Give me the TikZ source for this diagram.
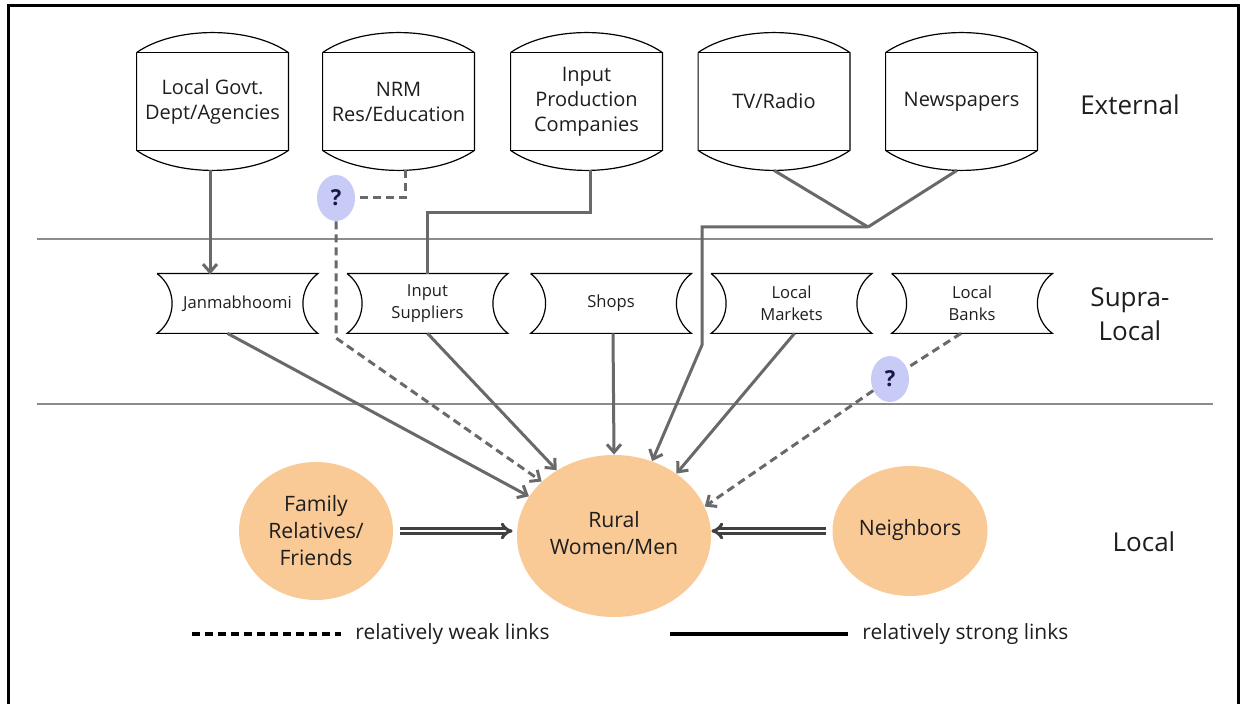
\documentclass[tikz,border=0pt]{standalone}
\usepackage{fontspec}
\setmainfont{Open Sans}
\usetikzlibrary{arrows.meta,calc,shapes.geometric}
\definecolor{conn}{RGB}{105,105,105}
\definecolor{sep}{RGB}{140,140,140}
\definecolor{orng}{RGB}{249,201,150}
\definecolor{lav}{RGB}{200,203,245}
\definecolor{txt}{RGB}{30,30,30}
\definecolor{dbl}{RGB}{64,64,64}
\definecolor{qtxt}{RGB}{25,25,70}
\newcommand\extdraw[1]{%
  \draw[boxline] ($(#1.north west)+(0,20)$) -- ($(#1.south west)+(0,-20)$)
    .. controls +(38,26.7) and +(-38,26.7) .. ($(#1.south east)+(0,-20)$)
    -- ($(#1.north east)+(0,20)$)
    .. controls +(-38,-26.7) and +(38,-26.7) .. ($(#1.north west)+(0,20)$);
  \draw[boxline] ($(#1.south west)+(0,-20)$) -- ($(#1.south east)+(0,-20)$);
  \draw[boxline] ($(#1.north west)+(0,20)$) -- ($(#1.north east)+(0,20)$);}
\newcommand\supdraw[1]{%
  \draw[boxline] (#1.north west) -- (#1.north east)
    .. controls +(-20,15) and +(-20,-15) .. (#1.south east)
    -- (#1.south west)
    .. controls +(20,-15) and +(20,15) .. (#1.north west);}
\begin{document}
\begin{tikzpicture}[x=0.5pt,y=-0.5pt,
  boxline/.style={draw=black, line width=0.6pt},
  extbox/.style={minimum width=75.5pt, minimum height=68.5pt, inner sep=0pt, align=center, text=txt, font=\fontsize{10}{12.5}\selectfont},
  supbox/.style={minimum width=80pt, minimum height=29.5pt, inner sep=0pt, align=center, text=txt, font=\fontsize{8.3}{11}\selectfont},
  circ/.style={ellipse, fill=orng, inner sep=0pt, align=center, text=txt, font=\fontsize{10.6}{13.5}\selectfont},
  qnode/.style={ellipse, fill=lav, minimum width=19pt, minimum height=23pt, inner sep=0pt, text=qtxt, font=\bfseries\fontsize{11}{11}\selectfont},
  lbl/.style={align=center, text=txt, font=\fontsize{13}{17}\selectfont},
  leg/.style={anchor=west, inner sep=0pt, text=txt, font=\fontsize{10.5}{12}\selectfont},
  strong/.style={draw=conn, line width=1.5pt},
  weak/.style={draw=conn, line width=1.5pt, dash pattern=on 4pt off 2.5pt},
  tip/.style={-{Straight Barb[length=4pt,width=7pt]}},
  dblarrow/.style={draw=dbl, double=white, double distance=1.1pt, line width=1.5pt, -{Implies}},
  sepline/.style={draw=sep, line width=1pt}]
\useasboundingbox (0,0) rectangle (1241,704);
% frame
\draw[line width=1.5pt] (8,704) -- (8,6) -- (1238,6) -- (1238,704);
% separators
\draw[sepline] (37,239) -- (1213,239);
\draw[sepline] (37,404) -- (1213,404);
% external
\node[extbox] (ext1) at (212.5,101.5) {Local Govt.\\Dept/Agencies};
\node[extbox] (ext2) at (398.5,101.5) {NRM\\Res/Education};
\node[extbox] (ext3) at (586.5,101.5) {Input\\Production\\Companies};
\node[extbox] (ext4) at (774,101.5) {TV/Radio};
\node[extbox] (ext5) at (961.5,101.5) {Newspapers};
\extdraw{ext1}\extdraw{ext2}\extdraw{ext3}\extdraw{ext4}\extdraw{ext5}
% supra-local
\node[supbox] (jan) at (237.5,303.5) {Janmabhoomi};
\node[supbox] (insup) at (427.5,303.5) {Input\\Suppliers};
\node[supbox] (shops) at (611,303.5) {Shops};
\node[supbox] (mkt) at (791.5,303.5) {Local\\Markets};
\node[supbox] (bank) at (972,303.5) {Local\\Banks};
\supdraw{jan}\supdraw{insup}\supdraw{shops}\supdraw{mkt}\supdraw{bank}
% local
\node[circ, minimum width=97pt, minimum height=81pt] (rural) at (614,536) {\raisebox{3pt}{\begin{tabular}{@{}c@{}}Rural\\Women/Men\end{tabular}}};
\node[circ, minimum width=77pt, minimum height=69pt] (fam) at (316,531) {Family\\Relatives/\\Friends};
\node[circ, minimum width=77.5pt, minimum height=65pt] (nb) at (910,531) {\raisebox{4pt}{Neighbors}};
% question nodes
\node[qnode] (q1) at (336,198) {?};
\node[qnode] (q2) at (890,379) {?};
% labels
\node[lbl] (lext) at (1130,105) {External};
\node[lbl] (lsup) at (1130,314) {Supra-\\Local};
\node[lbl] (lloc) at (1144,542) {Local};
% coordinates
\coordinate (jn) at (868,227);
\coordinate (tvk1) at (702,227);
\coordinate (tvk2) at (702,345);
\coordinate (k1) at (336,338);
% connectors
\draw[strong,tip] ($(ext1.south)+(-2.5,0)$) -- ++(0,104);
\draw[weak] ($(ext2.south)+(6.5,0)$) |- ([xshift=2.5pt]q1.east);
\draw[weak,tip] (q1.south) -- (k1) -- (rural.143);
\draw[strong] ($(ext3.south)+(3.5,0)$) -- ++(0,42) -| (insup.north);
\draw[strong] (ext4.south) -- (jn);
\draw[strong] ($(ext5.south)+(-4.5,0)$) -- (jn);
\draw[strong,tip] (jn) -- (tvk1) -- (tvk2) -- (rural.63);
\draw[strong,tip] ($(jan.south)+(-10,0)$) -- (rural.155);
\draw[strong,tip] (insup.south) -- (rural.131);
\draw[strong,tip] ($(shops.south)+(2,0)$) -- (rural.north);
\draw[strong,tip] ($(mkt.south)+(3,0)$) -- (rural.45);
\draw[weak] ($(bank.south)+(-11,0)$) -- (q2);
\draw[weak,tip] (q2) -- (rural.18);
\draw[dblarrow, shorten <=3.5pt, shorten >=2pt] (fam.east) -- (fam.east -| rural.west);
\draw[dblarrow, shorten <=3pt, shorten >=0pt] (nb.west) -- (nb.west -| rural.east);
% legend
\coordinate (lw1) at (192,634);
\coordinate (lw2) at (341,634);
\coordinate (ls1) at (670,634);
\coordinate (ls2) at (848,634);
\draw[line width=1.5pt, dash pattern=on 4pt off 2.5pt] (lw1) -- (lw2);
\node[leg] (tw) at (355,634) {relatively weak links};
\draw[line width=1.5pt] (ls1) -- (ls2);
\node[leg] (ts) at (862,634) {relatively strong links};
\end{tikzpicture}
\end{document}
